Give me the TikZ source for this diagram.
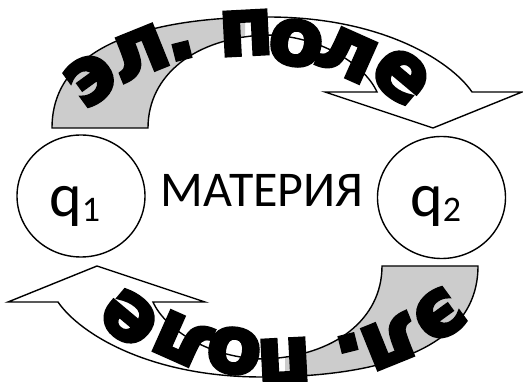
\documentclass[tikz,border=0pt]{standalone}
\usepackage{fontspec}
\setmainfont{Carlito}
\newfontfamily\wafont{DejaVu Sans Bold}[FakeBold=4]
\usetikzlibrary{shapes.geometric}
\definecolor{bandgrey}{RGB}{204,204,204}
\tikzset{
  outline/.style={draw=black, line width=1.4pt, line join=miter},
  charge/.style={draw=black, line width=1.4pt, ellipse, minimum width=128pt, minimum height=122pt, inner sep=0pt},
  qlabel/.style={font=\fontsize{62}{62}\selectfont, inner sep=0pt, anchor=base west},
  wa/.style={font=\wafont\fontsize{80}{80}\selectfont, inner sep=0pt, text=black}
}
\newcommand{\arrowpath}{(52,128) .. controls (52,45) and (150,17) .. (268,17)
   .. controls (380,17) and (450,60) .. (472,92) -- (522,92) -- (433,128) -- (325,92) -- (377,92)
   .. controls (365,65) and (320,35) .. (265,35) .. controls (195,38) and (148,75) .. (148,128) -- cycle}
\begin{document}
\begin{tikzpicture}[x=1pt,y=-1pt]
\useasboundingbox (0,0) rectangle (523,382);
% top and bottom curved arrows
\foreach \ang in {0,180}{
  \begin{scope}[rotate around={\ang:(265,197)}]
    \fill[white] \arrowpath;
    \begin{scope}
      \clip (0,0) rectangle (245,140);
      \fill[bandgrey] \arrowpath;
    \end{scope}
    \path[outline] \arrowpath;
  \end{scope}
}
% charges
\node[charge] (c1) at (81,196) {};
\node[charge] (c2) at (441.5,197.5) {};
\node[qlabel] (l1) at (49,217) {q\raisebox{-5pt}{\fontsize{36}{36}\selectfont 1}};
\node[qlabel] (l2) at (410,217) {q\raisebox{-5pt}{\fontsize{36}{36}\selectfont 2}};
\node[font=\fontsize{50}{50}\selectfont, inner sep=0pt, anchor=base] (mat) at (262,207) {МАТЕРИЯ};
% arched word art text, top and upside-down bottom
\foreach \c/\x/\y/\r [count=\i] in {э/91/79/36, л/139/53/22, ./182/51/14, п/246/33/3, о/296/43/-9, л/347/54/-24, е/401/76/-40}{
  \node[wa, rotate=\r] (ta\i) at (\x,\y) {\c};
  \node[wa, rotate=\r+180] (tb\i) at ({530-\x},{394-\y}) {\c};
}
\end{tikzpicture}
\end{document}
